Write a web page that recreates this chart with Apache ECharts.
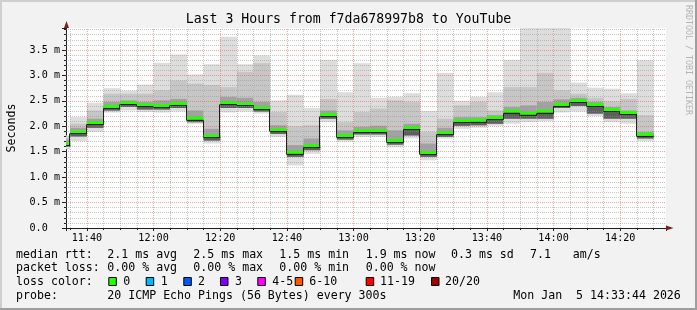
<!DOCTYPE html>
<html><head><meta charset="utf-8">
<script src="https://cdn.jsdelivr.net/npm/echarts@6/dist/echarts.min.js"></script>
<style>html,body{margin:0;padding:0;background:#f2f2f2}#c{width:697px;height:310px}</style>
</head><body><div id="c"></div>
<script>
// ---- data (5-minute SmokePing buckets, values in ms) ----
const times  = ['11:30','11:35','11:40','11:45','11:50','11:55','12:00','12:05','12:10','12:15','12:20','12:25',
                '12:30','12:35','12:40','12:45','12:50','12:55','13:00','13:05','13:10','13:15','13:20','13:25',
                '13:30','13:35','13:40','13:45','13:50','13:55','14:00','14:05','14:10','14:15','14:20','14:25'];
const minV   = [1.55,1.71,1.89,2.27,2.31,2.28,2.27,2.29,2.05,1.66,2.27,2.29,2.25,1.79,1.23,1.46,2.08,1.70,1.79,1.79,1.59,1.76,1.33,1.76,1.95,1.97,2.01,2.05,2.08,2.10,2.27,2.29,2.20,2.08,2.05,1.71];
const loV    = [1.60,1.80,1.97,2.31,2.38,2.33,2.33,2.36,2.08,1.72,2.36,2.36,2.29,1.85,1.40,1.53,2.15,1.74,1.84,1.84,1.64,1.82,1.40,1.79,2.01,2.02,2.05,2.15,2.15,2.15,2.36,2.40,2.25,2.15,2.15,1.76];
const median = [1.66,1.89,2.07,2.39,2.46,2.42,2.41,2.45,2.16,1.81,2.46,2.44,2.36,1.93,1.49,1.62,2.23,1.82,1.91,1.91,1.72,1.97,1.48,1.87,2.11,2.12,2.17,2.30,2.26,2.30,2.43,2.50,2.43,2.33,2.27,1.84];
const hiV    = [1.74,1.97,2.15,2.48,2.51,2.48,2.51,2.54,2.31,1.95,2.58,2.56,2.48,2.02,1.63,1.76,2.31,1.92,1.99,2.01,1.92,2.05,1.66,1.97,2.18,2.18,2.22,2.38,2.41,2.48,2.53,2.56,2.48,2.38,2.31,1.89];
const upV    = [1.78,2.05,2.31,2.64,2.64,2.64,2.71,2.90,2.84,2.81,2.77,3.07,3.24,2.28,2.00,2.02,2.54,2.08,2.28,2.35,2.51,2.48,1.89,2.15,2.41,2.48,2.31,2.77,2.77,3.05,2.71,2.64,2.56,2.49,2.54,2.22];
const maxV   = [1.82,2.18,2.46,2.75,2.70,2.82,3.25,3.41,3.02,3.22,3.76,3.22,3.39,2.51,2.62,2.36,3.31,2.67,3.24,2.56,2.58,2.65,2.30,3.05,2.50,2.58,2.67,3.31,3.95,3.95,3.95,2.86,2.76,2.74,2.65,3.30];

const yTickLabels = ['0.0','0.5 m','1.0 m','1.5 m','2.0 m','2.5 m','3.0 m','3.5 m'];
const xTickLabels = ['11:40','12:00','12:20','12:40','13:00','13:20','13:40','14:00','14:20'];
const titleText = 'Last 3 Hours from f7da678997b8 to YouTube';
const rangeStart = '11:33:44', rangeEnd = '14:33:44';

const statsRtt  = [['median rtt:',16],['2.1 ms avg',107.3],['2.5 ms max',193.3],['1.5 ms min',279.3],['1.9 ms now',365.7],['0.3 ms sd',451],['7.1',530],['am/s',572.7]];
const statsLoss = [['packet loss:',16],['0.00 % avg',107.3],['0.00 % max',193.3],['0.00 % min',279.3],['0.00 % now',365.7]];
const lossLabels = ['0','1','2','3','4-5','6-10','11-19','20/20'];
const lossColors = ['#26ff00','#00b8ff','#0059ff','#7e00ff','#ff00ff','#ff5500','#ff0000','#a10000'];
const lossBoxX   = [108.3,145.7,183.3,220,257.3,294.7,365.7,431];
const lossTextX  = [123.3,160.7,198,235,272.3,309.3,380,445];
const probeText = '20 ICMP Echo Pings (56 Bytes) every 300s';
const dateText = 'Mon Jan  5 14:33:44 2026';

// ---- helpers ----
const toMin = s => { const p = s.split(':').map(Number); return p[0]*60 + p[1] + (p[2]||0)/60; };
const STEP = 5;
const xMin = toMin(rangeStart), xMax = toMin(rangeEnd);
const yMax = 3.9326;
const MONO = 'DejaVu Sans Mono';
const FS = 11.6;      // legend / unit font
const AFS = 10.15;    // axis font

const rows = times.map((t,i)=>[toMin(t), toMin(t)+STEP, minV[i], loV[i], median[i], hiV[i], upV[i], maxV[i]]);

// grid line positions
const yMinor = [], yMajor = [], xMinorG = [], xMajorG = [];
for (let k = 1; k <= 39; k++) { const v = +(k*0.1).toFixed(1); if (v >= yMax) continue; if (k % 5 === 0) yMajor.push(v); else yMinor.push(v); }
for (let m = Math.ceil(xMin/5)*5; m < xMax; m += 5) { if (m % 20 === 0) xMajorG.push(m); else xMinorG.push(m); }

function renderSmoke(params, api) {
  const cs = params.coordSys;
  const s = api.value(0), e = api.value(1);
  const layer = (lo, hi, color) => {
    const a = api.coord([s, hi]), b = api.coord([e, lo]);
    const r = echarts.graphic.clipRectByRect({x:a[0], y:a[1], width:b[0]-a[0], height:b[1]-a[1]}, cs);
    return r ? {type:'rect', shape:r, style:{fill:color}} : null;
  };
  const mn = api.value(2), lo = api.value(3), md = api.value(4), hi = api.value(5), up = api.value(6), mx = api.value(7);
  const ch = [layer(mn, mx, '#dddddd'), layer(lo, up, '#c6c6c6'), layer(lo, hi, '#a2a2a2'), layer(lo, md, '#5e5e5e')].filter(Boolean);
  return {type:'group', children: ch};
}

function renderMedian(params, api) {
  const cs = params.coordSys;
  const i = params.dataIndex;
  const s = api.value(0), e = api.value(1), m = api.value(4);
  const p0 = api.coord([s, m]), p1 = api.coord([e, m]);
  const x0 = Math.max(p0[0], cs.x), x1 = Math.min(p1[0], cs.x + cs.width);
  const y = p0[1];
  const yl = Math.round(y + 1.5) + 0.5;
  const ch = [
    {type:'rect', shape:{x:x0, y:y-1.5, width:x1-x0, height:3}, style:{fill:lossColors[0]}},
    {type:'line', shape:{x1:x0, y1:yl, x2:x1, y2:yl}, style:{stroke:'#202020', lineWidth:1}}
  ];
  if (i + 1 < median.length) {
    const q = api.coord([e, median[i+1]]);
    const yq = Math.round(q[1] + 1.5) + 0.5;
    const xv = Math.round(x1) - 0.5;
    ch.push({type:'line', shape:{x1:xv, y1:yl, x2:xv, y2:yq}, style:{stroke:'#202020', lineWidth:1}});
  }
  return {type:'group', children: ch};
}

const txt = (text, x, y, extra) => ({type:'text', silent:true, x, y,
  style: Object.assign({text, fontFamily:MONO, fontSize:FS, fill:'#000', verticalAlign:'middle', align:'left'}, extra||{})});

const graphics = [];
// frame shading
graphics.push({type:'rect', shape:{x:0,y:0,width:697,height:2}, style:{fill:'#cfcfcf'}, silent:true});
graphics.push({type:'rect', shape:{x:0,y:0,width:2,height:310}, style:{fill:'#cfcfcf'}, silent:true});
graphics.push({type:'rect', shape:{x:0,y:308,width:697,height:2}, style:{fill:'#9e9e9e'}, silent:true});
graphics.push({type:'rect', shape:{x:695,y:0,width:2,height:310}, style:{fill:'#9e9e9e'}, silent:true});
// arrows
graphics.push({type:'polygon', shape:{points:[[64,28],[69,28],[66.5,21]]}, style:{fill:'#801f1f'}, silent:true, z:100});
graphics.push({type:'polygon', shape:{points:[[666,225.5],[666,230.5],[673.5,228]]}, style:{fill:'#801f1f'}, silent:true, z:100});
// watermark
graphics.push({type:'text', silent:true, x:688.5, y:5, rotation:-Math.PI/2,
  style:{text:'RRDTOOL / TOBI OETIKER', fontFamily:MONO, fontSize:8.3, fill:'#b4b4b4', align:'left', verticalAlign:'middle'}});
// legend lines
statsRtt.forEach(([t,x]) => graphics.push(txt(t, x, 254.5)));
statsLoss.forEach(([t,x]) => graphics.push(txt(t, x, 268.3)));
graphics.push(txt('loss color:', 16, 281.8));
lossLabels.forEach((l,i) => {
  graphics.push({type:'rect', silent:true, shape:{x:lossBoxX[i]+0.5, y:277.5, width:7.5, height:8}, style:{fill:lossColors[i], stroke:'#000', lineWidth:1}});
  graphics.push(txt(l, lossTextX[i], 281.8));
});
graphics.push(txt('probe:', 16, 295.8));
graphics.push(txt(probeText, 107.3, 295.8));
graphics.push(txt(dateText, 513.3, 295.8));

const minorStyle = {color:'rgba(143,143,143,0.5)', width:1, type:[1,1]};
const majorStyle = {color:'rgba(222,79,79,0.5)', width:1, type:[1,1]};

const chart = echarts.init(document.getElementById('c'), null, {renderer:'canvas'});
chart.setOption({
  animation: false,
  backgroundColor: '#f2f2f2',
  title: {text: titleText, left:'center', top:13, padding:0,
    textStyle:{fontFamily:MONO, fontSize:13.2, fontWeight:'normal', color:'#000'}},
  grid: {left:66, top:28, width:600, height:200, show:true, backgroundColor:'#ffffff', borderWidth:0,
         containLabel:false, outerBoundsMode:'none'},
  xAxis: {type:'value', min:xMin, max:xMax, splitNumber:9, minInterval:20, maxInterval:20,
    axisLine:{show:true, onZero:false, lineStyle:{color:'#1f1f1f', width:1}},
    axisTick:{show:true, length:3, lineStyle:{color:'#1f1f1f'}},
    minorTick:{show:true, splitNumber:4, length:2, lineStyle:{color:'#1f1f1f'}},
    splitLine:{show:false}, minorSplitLine:{show:false},
    axisLabel:{margin:5, fontFamily:MONO, fontSize:AFS, color:'#000', showMinLabel:false, showMaxLabel:false,
      formatter: v => { const r = Math.round(v); if (Math.abs(v-r) > 1e-6 || r % 20 !== 0) return ''; const k = xTickLabels.indexOf(String(Math.floor(r/60)).padStart(2,'0')+':'+String(r%60).padStart(2,'0')); return k >= 0 ? xTickLabels[k] : ''; }}
  },
  yAxis: {type:'value', min:0, max:yMax, interval:0.5,
    name:'Seconds', nameLocation:'middle', nameGap:48, nameRotate:90,
    nameTextStyle:{fontFamily:MONO, fontSize:FS, color:'#000'},
    axisLine:{show:true, lineStyle:{color:'#1f1f1f', width:1}},
    axisTick:{show:true, length:4, lineStyle:{color:'#1f1f1f'}},
    minorTick:{show:true, splitNumber:5, length:2, lineStyle:{color:'#1f1f1f'}},
    splitLine:{show:false}, minorSplitLine:{show:false},
    axisLabel:{margin:6, align:'right', fontFamily:MONO, fontSize:AFS, color:'#000', showMaxLabel:false,
      formatter: v => { const k = v/0.5; if (Math.abs(k - Math.round(k)) > 1e-6) return ''; const t = yTickLabels[Math.round(k)]; return t ? t.padEnd(5, '\u00a0') : ''; }}
  },
  graphic: graphics,
  series: [
    {type:'custom', name:'smoke', z:2, data: rows, encode:{x:[0,1], y:[2,3,4,5,6,7]}, renderItem: renderSmoke, silent:true},
    {type:'line', name:'grid', z:3, data:[[xMin+1, 1]], showSymbol:false, lineStyle:{opacity:0}, silent:true,
      markLine:{silent:true, z:3, symbol:'none', label:{show:false}, animation:false,
        data: [].concat(
          yMinor.map(v => ({yAxis:v, lineStyle:minorStyle})),
          xMinorG.map(v => ({xAxis:v, lineStyle:minorStyle})),
          yMajor.map(v => ({yAxis:v, lineStyle:majorStyle})),
          xMajorG.map(v => ({xAxis:v, lineStyle:majorStyle}))
        )}},
    {type:'custom', name:'median', z:4, data: rows, encode:{x:[0,1], y:4}, renderItem: renderMedian, silent:true}
  ]
});
</script></body></html>
